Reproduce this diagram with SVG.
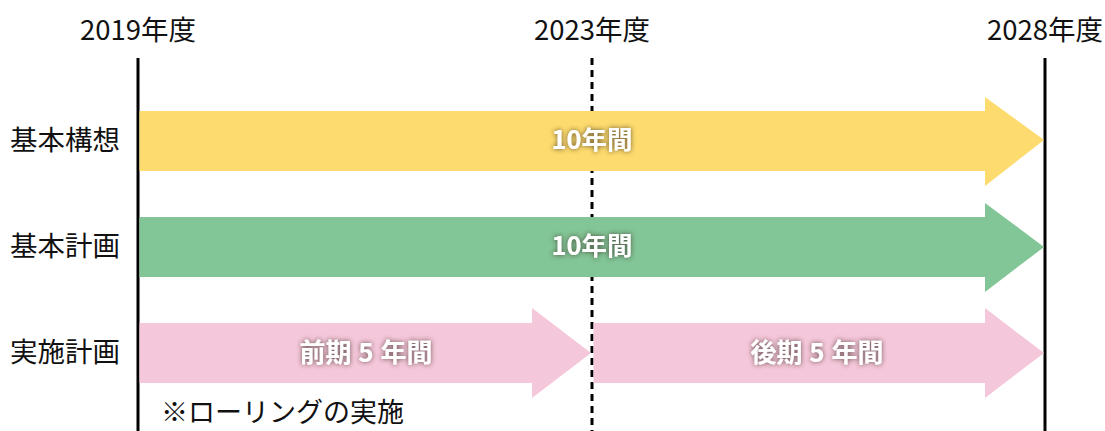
<svg xmlns="http://www.w3.org/2000/svg" width="1105" height="431" viewBox="0 0 1105 431">
<style>
.t{font-family:"Noto Sans CJK JP","Noto Sans",sans-serif;fill:#111}
.yr{font-size:27.5px;text-anchor:middle}
.lb{font-size:27.5px}
.w{font-family:"Noto Sans CJK JP","Noto Sans",sans-serif;font-weight:bold;fill:#fff;text-anchor:middle;filter:url(#sh)}
.axis{stroke:#000;stroke-width:3}
</style>
<defs>
<filter id="sh" x="-20%" y="-50%" width="140%" height="200%">
<feDropShadow dx="0" dy="0" stdDeviation="2.5" flood-color="#3a2a20" flood-opacity="0.8"/>
</filter>
</defs>
<g id="years">
<text class="t yr" x="138" y="40">2019年度</text>
<text class="t yr" x="592" y="40">2023年度</text>
<text class="t yr" x="1045" y="40">2028年度</text>
</g>
<g id="row-labels">
<text class="t lb" x="10" y="150">基本構想</text>
<text class="t lb" x="10" y="256">基本計画</text>
<text class="t lb" x="10" y="362">実施計画</text>
</g>
<g id="connectors">
<line class="axis" x1="138" y1="58" x2="138" y2="431"/>
<line class="axis" x1="1045" y1="58" x2="1045" y2="431"/>
<line x1="592" y1="58" x2="592" y2="431" stroke="#000" stroke-width="3" stroke-dasharray="7,5"/>
</g>
<g id="arrow-kihonkoso">
<polygon fill="#FDDB6E" points="139.5,111 985,111 985,97 1044,140 985,186 985,171 139.5,171"/>
<text class="w" x="592" y="149" font-size="25.5">10年間</text>
</g>
<g id="arrow-kihonkeikaku">
<polygon fill="#82C596" points="139.5,217 985,217 985,203 1044,247 985,292 985,277 139.5,277"/>
<text class="w" x="592" y="255" font-size="25.5">10年間</text>
</g>
<g id="arrow-zenki">
<polygon fill="#F5C7DB" points="139.5,323 532,323 532,308 591,353 532,398 532,383 139.5,383"/>
<text class="w" x="366" y="362" font-size="26" word-spacing="1">前期 5 年間</text>
</g>
<g id="arrow-koki">
<polygon fill="#F5C7DB" points="593.5,323 985,323 985,308 1044,353 985,398 985,383 593.5,383"/>
<text class="w" x="817" y="362" font-size="26" word-spacing="1">後期 5 年間</text>
</g>
<g id="note">
<text class="t" x="161" y="422" font-size="27">※ローリングの実施</text>
</g>
</svg>
